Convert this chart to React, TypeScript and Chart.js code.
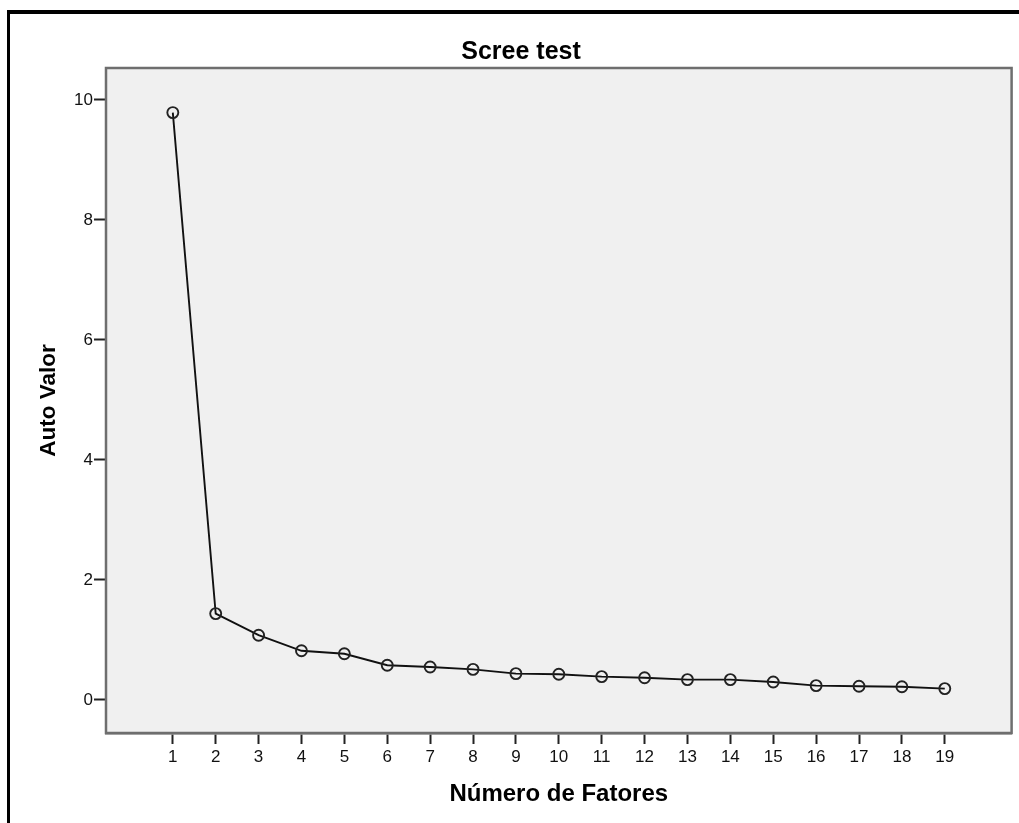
import React, { useEffect, useRef } from "react";
import { Chart, registerables } from "chart.js";

Chart.register(...registerables);

const factors = [1, 2, 3, 4, 5, 6, 7, 8, 9, 10, 11, 12, 13, 14, 15, 16, 17, 18, 19];
const eigenvalues = [9.79, 1.44, 1.08, 0.82, 0.77, 0.58, 0.55, 0.51, 0.44, 0.43, 0.39, 0.37, 0.34, 0.34, 0.3, 0.24, 0.23, 0.22, 0.19];
const yTicks = [0, 2, 4, 6, 8, 10];

const chartTitle = "Scree test";
const xTitle = "Número de Fatores";
const yTitle = "Auto Valor";

const FONT = "'Liberation Sans', Arial, sans-serif";

const framePlugin = {
  id: "plotFrame",
  beforeDatasetsDraw(chart: any) {
    const { ctx, chartArea } = chart;
    ctx.save();
    ctx.fillStyle = "#f0f0f0";
    ctx.fillRect(chartArea.left, chartArea.top, chartArea.right - chartArea.left, chartArea.bottom - chartArea.top);
    ctx.restore();
  },
  afterDraw(chart: any) {
    const { ctx, chartArea } = chart;
    ctx.save();
    ctx.strokeStyle = "#6e6e6e";
    ctx.lineWidth = 2.5;
    ctx.strokeRect(chartArea.left, chartArea.top, chartArea.right - chartArea.left, chartArea.bottom - chartArea.top);
    ctx.restore();
  },
};

export default function App() {
  const ref = useRef<HTMLCanvasElement | null>(null);

  useEffect(() => {
    if (!ref.current) return;
    const chart = new Chart(ref.current, {
      type: "line",
      data: {
        datasets: [
          {
            data: factors.map((f, i) => ({ x: f, y: eigenvalues[i] })),
            borderColor: "#111111",
            borderWidth: 1.9,
            pointRadius: 5.5,
            pointBorderWidth: 1.9,
            pointBorderColor: "#222222",
            pointBackgroundColor: "rgba(0,0,0,0)",
            tension: 0,
            fill: false,
          },
        ],
      },
      plugins: [framePlugin],
      options: {
        animation: false,
        responsive: false,
        layout: { padding: { left: 27, right: 4, top: 0, bottom: 0 } },
        plugins: {
          legend: { display: false },
          tooltip: { enabled: false },
          title: {
            display: true,
            text: chartTitle,
            color: "#000000",
            font: { family: FONT, size: 25, weight: "bold" },
            padding: { top: 37, bottom: 1 },
          },
        },
        scales: {
          x: {
            type: "linear",
            min: -0.558,
            max: 20.558,
            afterBuildTicks: (scale: any) => {
              scale.ticks = factors.map((v) => ({ value: v }));
            },
            afterFit: (scale: any) => {
              scale.height = 90;
              scale.paddingLeft = 0;
              scale.paddingRight = 0;
            },
            ticks: {
              color: "#111111",
              font: { family: FONT, size: 17 },
              padding: 3,
              maxRotation: 0,
              autoSkip: false,
              callback: (v: any) => String(v),
            },
            grid: {
              drawOnChartArea: false,
              drawTicks: true,
              tickLength: 11,
              tickColor: "#222222",
              tickWidth: 2,
            },
            border: { display: true, color: "#6e6e6e", width: 2.5 },
            title: {
              display: true,
              text: xTitle,
              color: "#000000",
              font: { family: FONT, size: 24, weight: "bold" },
              padding: { top: 0, bottom: 14.6 },
            },
          },
          y: {
            type: "linear",
            min: -0.55,
            max: 10.533,
            afterBuildTicks: (scale: any) => {
              scale.ticks = yTicks.map((v) => ({ value: v }));
            },
            afterFit: (scale: any) => {
              scale.width = 79;
              scale.paddingTop = 0;
              scale.paddingBottom = 0;
            },
            ticks: {
              color: "#111111",
              font: { family: FONT, size: 17 },
              padding: 1,
              autoSkip: false,
              callback: (v: any) => String(v),
            },
            grid: {
              drawOnChartArea: false,
              drawTicks: true,
              tickLength: 12,
              tickColor: "#222222",
              tickWidth: 2,
            },
            border: { display: true, color: "#6e6e6e", width: 2.5 },
            title: {
              display: true,
              text: yTitle,
              color: "#000000",
              font: { family: FONT, size: 22.5, weight: "bold" },
              padding: { top: 8, bottom: 0 },
            },
          },
        },
      },
    } as any);
    return () => chart.destroy();
  }, []);

  return (
    <div
      style={{
        position: "absolute",
        left: 0,
        top: 0,
        width: 1019,
        height: 823,
        overflow: "hidden",
        background: "#ffffff",
      }}
    >
      <div
        style={{
          position: "absolute",
          left: 7,
          top: 10,
          width: 1100,
          height: 900,
          borderTop: "4px solid #000",
          borderLeft: "3px solid #000",
          boxSizing: "border-box",
        }}
      />
      <canvas
        ref={ref}
        width={1019}
        height={823}
        style={{ position: "absolute", left: 0, top: 0, width: 1019, height: 823 }}
      />
    </div>
  );
}
